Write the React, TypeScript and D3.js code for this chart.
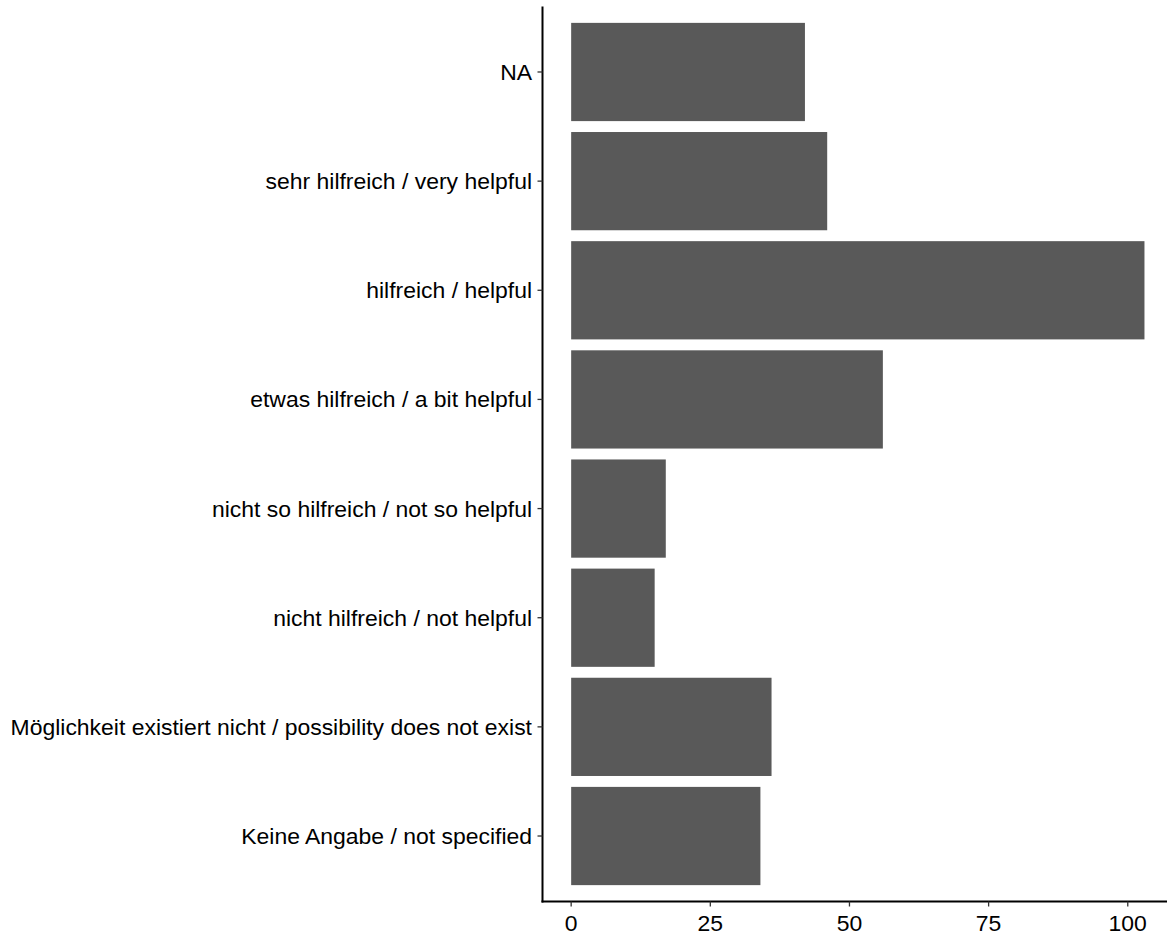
import React from "react";
import * as d3 from "d3";

const categories = [
  "NA",
  "sehr hilfreich / very helpful",
  "hilfreich / helpful",
  "etwas hilfreich / a bit helpful",
  "nicht so hilfreich / not so helpful",
  "nicht hilfreich / not helpful",
  "Möglichkeit existiert nicht / possibility does not exist",
  "Keine Angabe / not specified",
];
const counts = [42, 46, 103, 56, 17, 15, 36, 34];
const xTicks = [0, 25, 50, 75, 100];

const W = 1167;
const H = 936;

export default function App() {
  const left = 542.5;
  const top = 6.5;
  const bottom = 901.5;
  const pxPerUnit = 5.566;
  const maxV = d3.max(counts) as number;
  const pad = maxV * 0.05;
  const x = d3
    .scaleLinear()
    .domain([-pad, maxV + pad])
    .range([left, left + (maxV + 2 * pad) * pxPerUnit]);
  const n = categories.length;
  const step = (bottom - top) / (n - 1 + 1.2);
  const yCenter = (i: number) => top + 0.6 * step + i * step;
  const bw = step * 0.9;
  const font = "'Liberation Sans', Arial, sans-serif";
  const fs = 22.95;
  return (
    <svg width={W} height={H} style={{ position: "absolute", left: 0, top: 0 }}>
      <rect width={W} height={H} fill="#fff" />
      {counts.map((v, i) => (
        <rect
          key={i}
          x={x(0)}
          y={yCenter(i) - bw / 2}
          width={x(v) - x(0)}
          height={bw}
          fill="#595959"
        />
      ))}
      <line x1={left} x2={left} y1={top} y2={bottom + 1} stroke="#000" strokeWidth={2} />
      <line x1={left - 1} x2={W} y1={bottom} y2={bottom} stroke="#000" strokeWidth={2} />
      {categories.map((c, i) => (
        <g key={c}>
          <line x1={left - 5} x2={left} y1={yCenter(i)} y2={yCenter(i)} stroke="#333" strokeWidth={1.3} />
          <text
            x={left - 10.5}
            y={yCenter(i)}
            textAnchor="end"
            dominantBaseline="central"
            fontFamily={font}
            fontSize={fs}
            fill="#000"
          >
            {c}
          </text>
        </g>
      ))}
      {xTicks.map((t) => (
        <g key={t}>
          <line x1={x(t)} x2={x(t)} y1={bottom} y2={bottom + 5} stroke="#333" strokeWidth={1.3} />
          <text
            x={x(t)}
            y={bottom + 21}
            textAnchor="middle"
            dominantBaseline="central"
            fontFamily={font}
            fontSize={fs}
            fill="#000"
          >
            {t}
          </text>
        </g>
      ))}
    </svg>
  );
}
